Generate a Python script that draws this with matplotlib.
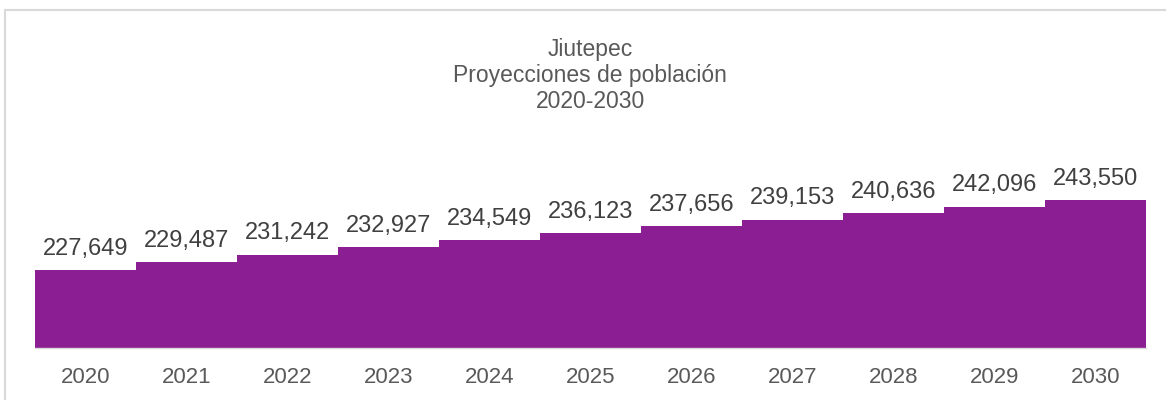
import matplotlib.pyplot as plt
from matplotlib.patches import Rectangle

years = ["2020", "2021", "2022", "2023", "2024", "2025", "2026", "2027", "2028", "2029", "2030"]
population = [227649, 229487, 231242, 232927, 234549, 236123, 237656, 239153, 240636, 242096, 243550]

plt.rcParams['font.family'] = ['Liberation Sans', 'DejaVu Sans']
text_color = '#595959'
label_color = '#404040'
bar_color = '#8b1e93'

fig = plt.figure(figsize=(11.66, 4), dpi=100)
ax = fig.add_axes([35 / 1166, 52 / 400, 1111 / 1166, 176 / 400])

x = range(len(years))
ax.bar(x, population, width=1.0, color=bar_color, edgecolor='none')
ax.set_xlim(-0.5, len(years) - 0.5)
ax.set_ylim(210000, 250000)

for i, v in zip(x, population):
    ax.annotate(f"{v:,}", (i, v), xytext=(0, 11), textcoords='offset points',
                ha='center', va='baseline', fontsize=17, color=label_color)

ax.set_xticks(list(x))
ax.set_xticklabels(years, fontsize=16, color=text_color)
ax.tick_params(axis='x', length=0, pad=14)
ax.set_yticks([])
for side in ['top', 'right', 'left']:
    ax.spines[side].set_visible(False)
ax.spines['bottom'].set_color('#d9d9d9')
ax.spines['bottom'].set_linewidth(1)

fig.text(590 / 1166, 1 - 108 / 400, "Jiutepec\nProyecciones de población\n2020-2030",
         ha='center', va='baseline', fontsize=16.5, color=text_color, linespacing=1.17,
         multialignment='center')

fig.patches.append(Rectangle((5 / 1166, -0.1), 1.2, 1.1 - 10 / 400, transform=fig.transFigure,
                             fill=False, edgecolor='#d9d9d9', linewidth=1.5))

fig.savefig("out.png", dpi=100)
